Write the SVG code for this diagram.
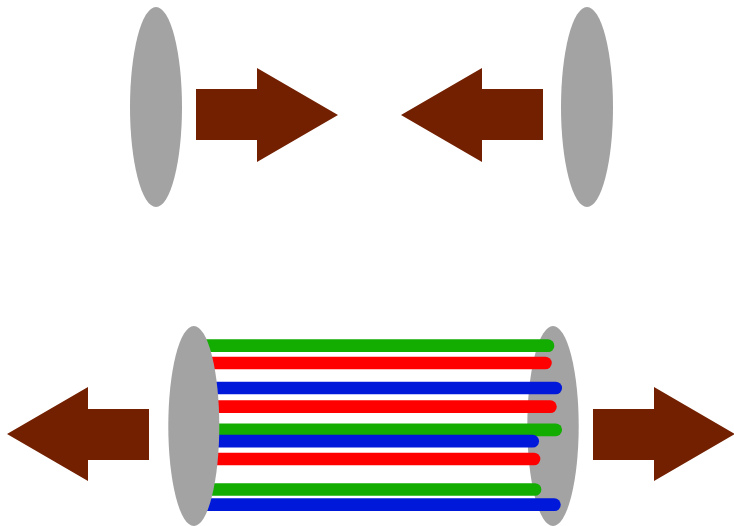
<svg xmlns="http://www.w3.org/2000/svg" width="734" height="526" viewBox="0 0 734 526">
  <style>
    .disc { fill: #a3a3a3; }
    .arrow { fill: #722000; }
    .wire { fill: none; stroke-width: 12.7; stroke-linecap: round; }
    .g { stroke: #12ad00; }
    .r { stroke: #ff0000; }
    .b { stroke: #0018d9; }
  </style>
  <rect width="734" height="526" fill="#ffffff"/>

  <!-- top row: two discs pushed toward each other -->
  <g id="disc-top-left"><ellipse class="disc" cx="156" cy="107" rx="26" ry="100"/></g>
  <g id="push-right"><polygon class="arrow" points="196,89 257,89 257,68 338,115 257,162 257,140 196,140"/></g>
  <g id="push-left"><polygon class="arrow" points="543,89 482,89 482,68 401,115 482,162 482,140 543,140"/></g>
  <g id="disc-top-right"><ellipse class="disc" cx="587" cy="107" rx="26" ry="100"/></g>

  <!-- bottom row: discs pulled apart, joined by stretched wires -->
  <g id="pull-left"><polygon class="arrow" points="149,409 88,409 88,387 7,434 88,481 88,460 149,460"/></g>
  <g id="pull-right"><polygon class="arrow" points="593,409 654,409 654,387 735,434 654,481 654,460 593,460"/></g>

  <g id="disc-bottom-right"><ellipse class="disc" cx="553" cy="426" rx="25.7" ry="100"/></g>

  <g id="wires">
    <line class="wire g" x1="200" y1="345.7" x2="548" y2="345.7"/>
    <line class="wire r" x1="200" y1="363" x2="545.4" y2="363"/>
    <line class="wire b" x1="200" y1="388" x2="555.7" y2="388"/>
    <line class="wire r" x1="200" y1="406.7" x2="550.4" y2="406.7"/>
    <line class="wire g" x1="200" y1="429.8" x2="555.7" y2="429.8"/>
    <line class="wire b" x1="200" y1="441.2" x2="532.7" y2="441.2"/>
    <line class="wire r" x1="200" y1="459" x2="534" y2="459"/>
    <line class="wire g" x1="200" y1="489.5" x2="535" y2="489.5"/>
    <line class="wire b" x1="200" y1="504.7" x2="554.4" y2="504.7"/>
  </g>

  <g id="disc-bottom-left"><ellipse class="disc" cx="193.8" cy="426" rx="25.5" ry="100"/></g>
</svg>
